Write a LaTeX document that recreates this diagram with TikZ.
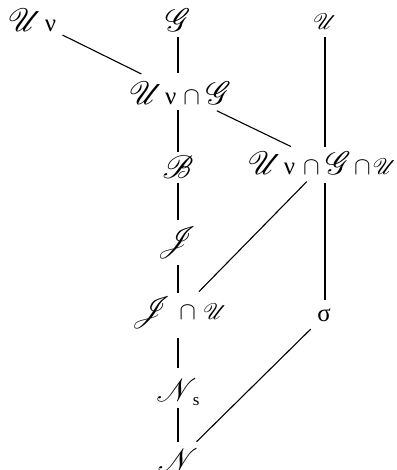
\documentclass[tikz,border=0pt]{standalone}
\usepackage{fontspec}
\setmainfont{Liberation Serif}
\usepackage{graphicx}
\usepackage{mathrsfs}
\newcommand\scr[1]{\scalebox{1.3}{\(\mathscr{#1}\)}}
\newcommand\scrsmallu{\scalebox{1.3}{\fontsize{17.28}{17}\selectfont\(\mathscr{U}\)}}
\newcommand\capsym{\(\cap\)}
\begin{document}
\begin{tikzpicture}[x=1pt,y=-1pt,
  lbl/.style={inner sep=0pt,font=\fontsize{24.88}{28}\selectfont},
  edge/.style={line width=1.1pt}]
\useasboundingbox (0,0) rectangle (396,470);
\node[lbl] (uv)   at (32,20)  {\scr{U}\hspace{3pt}ν};
\node[lbl] (g)    at (178,20) {\scr{G}};
\node[lbl] (u)    at (325,22) {\scrsmallu};
\node[lbl] (uvg)  at (180,93) {\scr{U}\hspace{2pt}ν\hspace{7pt}\capsym\hspace{6pt}\scr{G}};
\node[lbl] (b)    at (178,167) {\scr{B}};
\node[lbl] (uvgu) at (322,163) {\scr{U}\hspace{2pt}ν\hspace{8pt}\capsym\hspace{6pt}\scr{G}\hspace{3pt}\capsym\hspace{2pt}\scrsmallu};
\node[lbl] (j)    at (177,243) {\scr{J}};
\node[lbl] (ju)   at (179,313) {\scr{J}\hspace{8pt}\capsym\hspace{7pt}\scrsmallu};
\node[lbl] (s)    at (324,315) {σ};
\node[lbl] (ns)   at (178,392) {\scr{N}\hspace{-4pt}\raisebox{-4pt}{\fontsize{17}{17}\selectfont s}};
\node[lbl] (n)    at (178,460) {\scr{N}};
\draw[edge,shorten <=34pt,shorten >=43pt] (uv.center) -- (uvg.center);
\draw[edge,shorten <=17pt,shorten >=20pt] (g.center) -- (g.center |- uvg.center);
\draw[edge,shorten <=15pt,shorten >=16pt] (u.center) -- (u.center |- uvgu.center);
\draw[edge,shorten <=17pt,shorten >=15pt] (b.center |- uvg.center) -- (b.center);
\draw[edge,shorten <=41pt,shorten >=38pt] (uvg.center) -- (u.center |- uvgu.center);
\draw[edge,shorten <=16pt,shorten >=23pt] (b.center) -- (b.center |- j.center);
\draw[edge,shorten <=26pt,shorten >=30pt] (u.center |- uvgu.center) -- (b.center |- ju.center);
\draw[edge,shorten <=20pt,shorten >=15pt] (u.center |- uvgu.center) -- (u.center |- s.center);
\draw[edge,shorten <=22pt,shorten >=20pt] (b.center |- j.center) -- (b.center |- ju.center);
\draw[edge,shorten <=25pt,shorten >=24pt] (b.center |- ju.center) -- (ns.center);
\draw[edge,shorten <=16pt,shorten >=18pt] (ns.center) -- (n.center);
\draw[edge,shorten <=20pt,shorten >=26pt] (u.center |- s.center) -- (n.center);
\end{tikzpicture}
\end{document}
